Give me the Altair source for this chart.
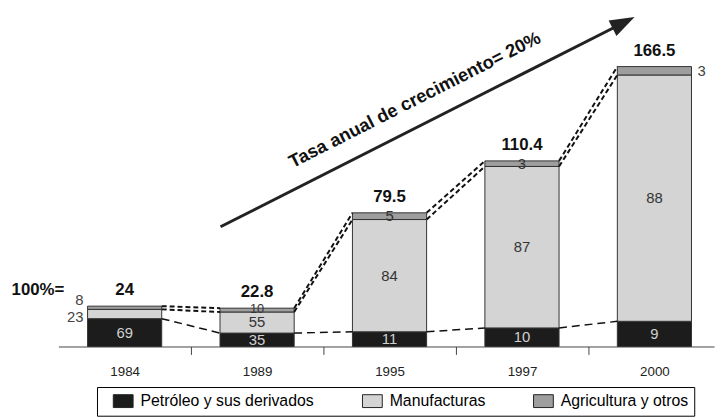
import json
import math
import altair as alt
import pandas as pd

# ---------------- data ----------------
YEARS = ["1984", "1989", "1995", "1997", "2000"]
TOTALS = [24, 22.8, 79.5, 110.4, 166.5]
PETROLEO = [69, 35, 11, 10, 9]
MANUFACTURAS = [23, 55, 84, 87, 88]
AGRICULTURA = [8, 10, 5, 3, 3]
CATEGORIES = ["Petróleo y sus derivados", "Manufacturas", "Agricultura y otros"]
HEAD_LABEL = "100%="
GROWTH_TEXT = "Tasa anual de crecimiento= 20%"
# annotation arrow, in data units (x: bar index, y: value)
ARROW_X = [0.724, 3.767]
ARROW_Y = [71.2, 192.6]
ANNOT_X = [2.19]
ANNOT_Y = [146.8]

# ---------------- style / layout ----------------
COLORS = ["#1c1c1c", "#d4d4d4", "#9e9e9e"]
FONT = "Liberation Sans"
W, H = 663, 338
X_DOMAIN = [-0.5, 4.45]
Y_DOMAIN = [0, 198.8]
HW = 0.28  # half bar width in index units
SX = W / (X_DOMAIN[1] - X_DOMAIN[0])
SY = H / (Y_DOMAIN[1] - Y_DOMAIN[0])

# ---------------- tables ----------------
seg_rows = []
for i, (yr, tot) in enumerate(zip(YEARS, TOTALS)):
    cum = 0.0
    for cat, arr in zip(CATEGORIES, [PETROLEO, MANUFACTURAS, AGRICULTURA]):
        v = tot * arr[i] / 100.0
        seg_rows.append(dict(i=i, year=yr, cat=cat, pct=str(arr[i]),
                             y0=cum, y1=cum + v, mid=cum + v / 2,
                             xl=i - HW, xr=i + HW))
        cum += v
seg = pd.DataFrame(seg_rows)

bounds = {
    "dark": [t * p / 100 for t, p in zip(TOTALS, PETROLEO)],
    "manu": [t * (p + m) / 100 for t, p, m in zip(TOTALS, PETROLEO, MANUFACTURAS)],
    "top": list(TOTALS),
}
line_rows = []
for i in range(len(YEARS) - 1):
    for kind, arr in bounds.items():
        lid = f"{kind}-{i}"
        line_rows.append(dict(id=lid, kind=kind, x=i + HW, y=arr[i]))
        line_rows.append(dict(id=lid, kind=kind, x=i + 1 - HW, y=arr[i + 1]))
lines = pd.DataFrame(line_rows)

tot = pd.DataFrame(dict(x=list(range(len(YEARS))), y=TOTALS,
                        label=[f"{t:g}" for t in TOTALS]))
head = pd.DataFrame(dict(x=[X_DOMAIN[0]], y=[TOTALS[0]], label=[HEAD_LABEL]))
arrow = pd.DataFrame(dict(x=ARROW_X, y=ARROW_Y))
arrow_head = arrow.tail(1)
annot = pd.DataFrame(dict(x=ANNOT_X, y=ANNOT_Y, label=[GROWTH_TEXT]))

ang = math.degrees(math.atan2((ARROW_Y[1] - ARROW_Y[0]) * SY,
                              (ARROW_X[1] - ARROW_X[0]) * SX))
rot = 360 - ang

# label placements
outside_left = seg[(seg.year == YEARS[0]) & (seg.cat != CATEGORIES[0])]
outside_right = seg[(seg.year == YEARS[-1]) & (seg.cat == CATEGORIES[2])]
inside = seg.drop(outside_left.index).drop(outside_right.index)
inside_dark = inside[inside.cat == CATEGORIES[0]]
inside_mid = inside[inside.cat == CATEGORIES[1]]
inside_top = inside[inside.cat == CATEGORIES[2]]
inside_top_small = inside_top[inside_top.year == YEARS[1]]
inside_top_rest = inside_top[inside_top.year != YEARS[1]]

xscale = alt.Scale(domain=X_DOMAIN, nice=False, zero=False)
yscale = alt.Scale(domain=Y_DOMAIN, nice=False, zero=False)
label_expr = ("datum.value % 1 == 0 ? " + json.dumps(YEARS) +
              "[datum.value] : ''")

x_axis = alt.Axis(
    values=[0, 0.5, 1, 1.5, 2, 2.5, 3, 3.5, 4],
    labelExpr=label_expr,
    tickOpacity={"condition": {"test": "datum.value % 1 != 0", "value": 1}, "value": 0},
    grid=False, title=None, domainColor="#444", tickColor="#444",
    tickSize=8, labelPadding=10, labelFontSize=13.5, labelFont=FONT,
    labelColor="#222", labelAngle=0, labelFlush=False, labelOverlap=False,
)

legend = alt.Legend(
    orient="none", legendX=39, legendY=379, direction="horizontal", title=None,
    symbolType="M-1.54,-1H1.54V1H-1.54Z", symbolSize=169,
    symbolStrokeColor="#222", symbolStrokeWidth=1, symbolOpacity=1,
    symbolOffset=12.5, labelOffset=9.5, columnPadding=38,
    labelFontSize=16, labelFont=FONT, labelColor="black", labelLimit=400,
    padding=6, strokeColor="black", fillColor="white",
)

bars = alt.Chart(seg).mark_rect(stroke="#333", strokeWidth=1).encode(
    x=alt.X("xl:Q", scale=xscale, axis=x_axis),
    x2="xr:Q",
    y=alt.Y("y0:Q", scale=yscale, axis=None),
    y2="y1:Q",
    color=alt.Color("cat:N", scale=alt.Scale(domain=CATEGORIES, range=COLORS),
                    legend=legend),
)

def X(f):
    return alt.X(f, title=None)

def Y(f):
    return alt.Y(f, axis=None)

top_lines = alt.Chart(lines[lines.kind != "dark"]).mark_line(
    strokeDash=[5, 3], strokeWidth=2, color="#111").encode(
    x=X("x:Q"), y=Y("y:Q"), detail="id:N")
dark_lines = alt.Chart(lines[lines.kind == "dark"]).mark_line(
    strokeDash=[8, 5], strokeWidth=1.5, color="#111").encode(
    x=X("x:Q"), y=Y("y:Q"), detail="id:N")

def seg_text(df, color, xf="i:Q", size=15, **kw):
    return alt.Chart(df).mark_text(color=color, font=FONT, fontSize=size,
                                   baseline="middle", **kw).encode(
        x=X(xf), y=Y("mid:Q"), text="pct:N")

lbl_dark = seg_text(inside_dark, "#d0d0d0")
lbl_mid = seg_text(inside_mid, "#333")
lbl_top = seg_text(inside_top_rest, "#333")
lbl_top_small = seg_text(inside_top_small, "#333", size=13, dy=-1)
lbl_left_m = seg_text(outside_left[outside_left.cat == CATEGORIES[1]], "#444",
                      xf="xl:Q", align="right", dx=-4, dy=3)
lbl_left_a = seg_text(outside_left[outside_left.cat == CATEGORIES[2]], "#444",
                      xf="xl:Q", align="right", dx=-4, dy=-8)
lbl_right = seg_text(outside_right, "#444", xf="xr:Q", align="left", dx=6)

tot_lbl = alt.Chart(tot).mark_text(
    font=FONT, fontSize=17, fontWeight="bold", color="#111",
    baseline="middle", dy=-16).encode(x=X("x:Q"), y=Y("y:Q"), text="label:N")
head_lbl = alt.Chart(head).mark_text(
    font=FONT, fontSize=17, fontWeight="bold", color="#111", align="right",
    baseline="middle", dx=6, dy=-16).encode(x=X("x:Q"), y=Y("y:Q"), text="label:N")

arrow_line = alt.Chart(arrow).mark_line(strokeWidth=3, color="#222").encode(
    x=X("x:Q"), y=Y("y:Q"))
arrow_tip = alt.Chart(arrow_head).mark_point(
    shape="M1,0L-1,-0.7L-1,0.7Z", size=625, filled=True, color="#222",
    opacity=1, angle=rot).encode(x=X("x:Q"), y=Y("y:Q"))
annot_txt = alt.Chart(annot).mark_text(
    font=FONT, fontSize=18.5, fontWeight="bold", color="#111", angle=rot,
    align="center", baseline="middle").encode(
    x=X("x:Q"), y=Y("y:Q"), text="label:N")

chart = alt.layer(
    bars, top_lines, dark_lines, lbl_dark, lbl_mid, lbl_top, lbl_top_small,
    lbl_left_m, lbl_left_a, lbl_right, tot_lbl, head_lbl,
    arrow_line, arrow_tip, annot_txt,
).properties(
    width=W, height=H,
    padding={"left": 51, "top": 2, "right": 1, "bottom": 71},
    autosize=alt.AutoSizeParams(type="none"),
    background="white",
).configure_view(stroke=None)

chart.save("out.html", embed_options={"renderer": "svg", "actions": False})
